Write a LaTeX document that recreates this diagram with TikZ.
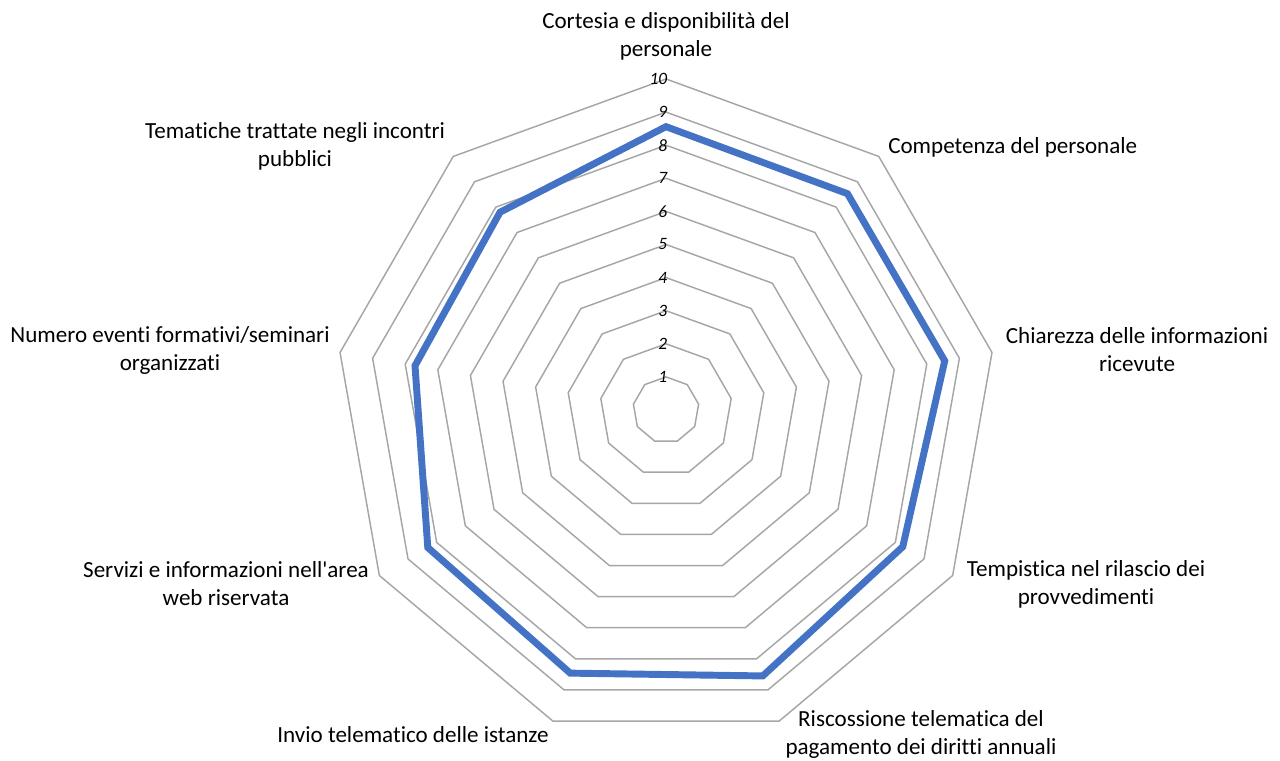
\documentclass[tikz,border=0pt]{standalone}
\usepackage{fontspec}
\setmainfont{Carlito}[Ligatures={NoCommon}]
\usetikzlibrary{calc}
\definecolor{gridgray}{RGB}{166,166,166}
\definecolor{seriesblue}{RGB}{68,114,196}
\tikzset{
  ring/.style={draw=gridgray, line width=1.1pt, line join=miter},
  series/.style={draw=seriesblue, line width=5.2pt, line join=miter},
  ticklabel/.style={anchor=east, inner sep=0pt, font=\fontsize{13}{14}\selectfont\itshape},
  catlabel/.style={align=center, inner sep=0pt, font=\fontsize{17.3}{21}\selectfont}
}
\begin{document}
\begin{tikzpicture}[x=0.75pt, y=0.75pt]
  \useasboundingbox (0,0) rectangle (1280,760);
  \coordinate (c) at (666,350);
  \begin{scope}[shift={(c)}]
    % Grid rings, one per level
    \foreach \l in {1,...,10}{
      \draw[ring] (90:\l*33.1) \foreach \a in {1,...,8}{ -- (90-40*\a:\l*33.1)} -- cycle;
      \node[ticklabel] (tick\l) at ($(90:\l*33.1)+(1.5,0)$) {\l};
    }
    % Data points
    \foreach \v [count=\i from 0] in {8.56,8.53,8.55,8.26,8.55,8.46,8.31,7.70,7.80}{
      \coordinate (p\i) at (90-40*\i:\v*33.1);
    }
    \draw[series] (p0) -- (p1) -- (p2) -- (p3) -- (p4) -- (p5) -- (p6) -- (p7) -- (p8) -- cycle;
  \end{scope}
  % Category labels
  \node[catlabel] (cortesia) at (666,724) {Cortesia e disponibilità del\\personale};
  \node[catlabel, anchor=west] (competenza) at (888,613) {Competenza del personale};
  \node[catlabel] (chiarezza) at (1137,410) {Chiarezza delle informazioni\\ricevute};
  \node[catlabel] (tempistica) at (1086,176) {Tempistica nel rilascio dei\\provvedimenti};
  \node[catlabel] (riscossione) at (921,26) {Riscossione telematica del\\pagamento dei diritti annuali};
  \node[catlabel] (invio) at (413,25) {Invio telematico delle istanze};
  \node[catlabel] (servizi) at (226,176) {Servizi e informazioni nell\textquotesingle area\\web riservata};
  \node[catlabel] (numero) at (170,410) {Numero eventi formativi/seminari\\organizzati};
  \node[catlabel] (tematiche) at (295,614) {Tematiche trattate negli incontri\\pubblici};
\end{tikzpicture}
\end{document}
